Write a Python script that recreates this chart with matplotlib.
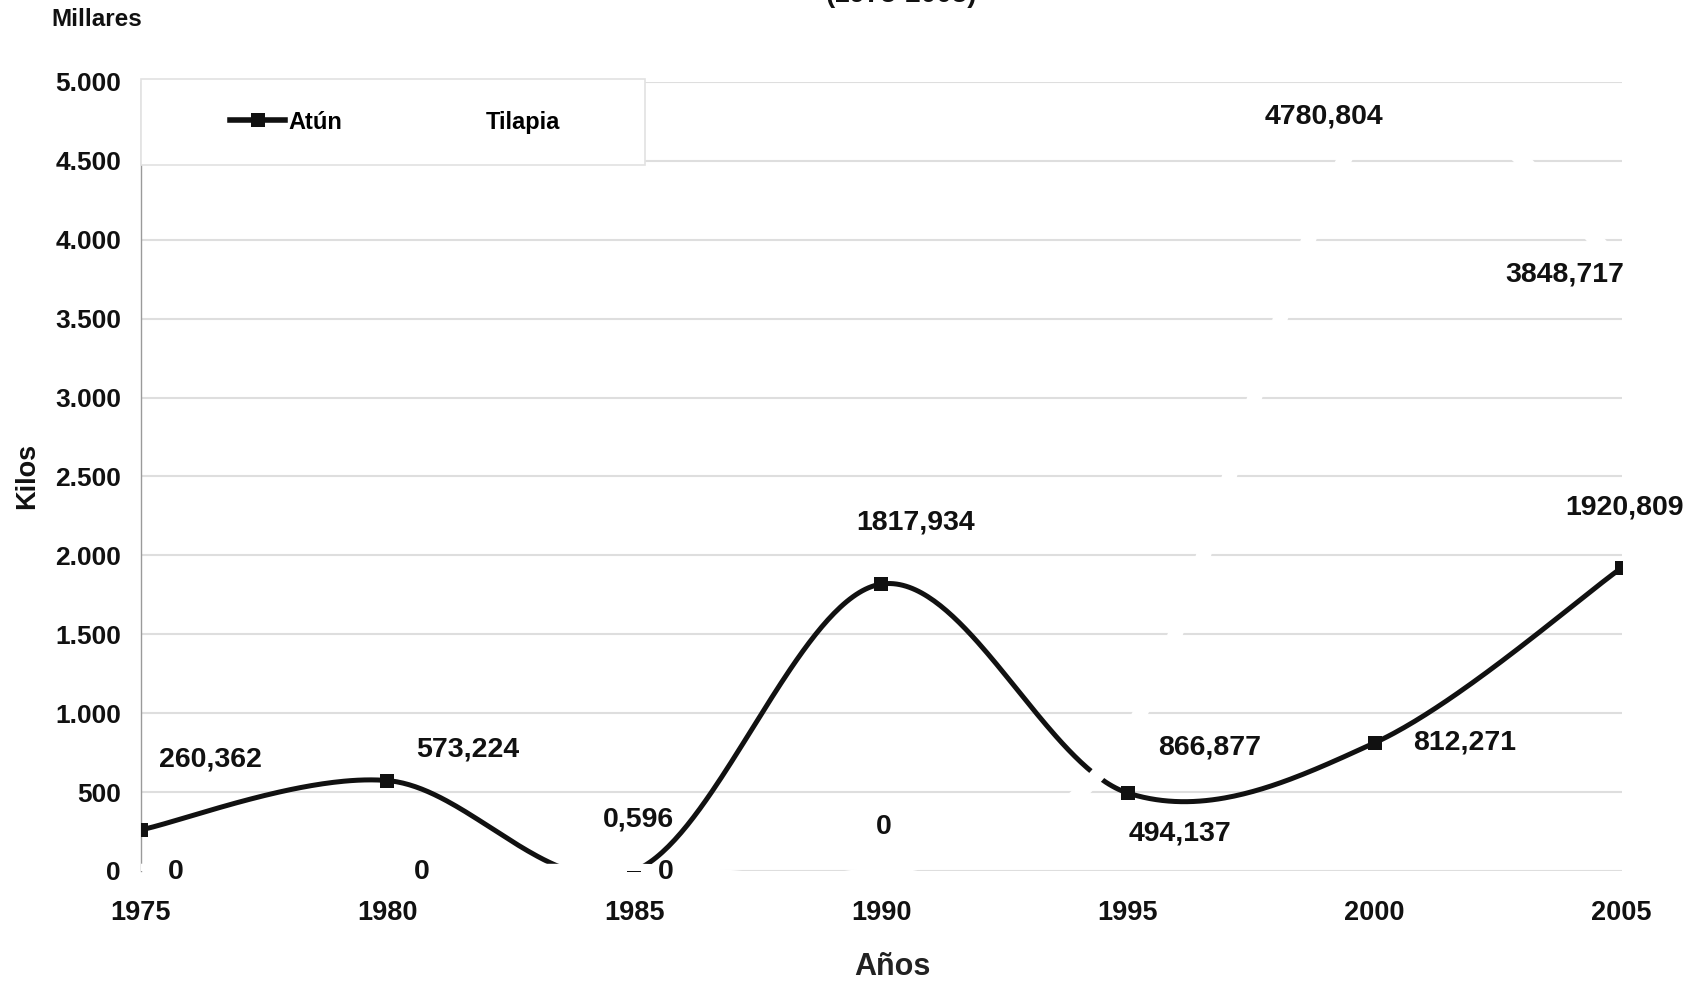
import numpy as np
import matplotlib
matplotlib.use("Agg")
import matplotlib.pyplot as plt
from matplotlib.lines import Line2D
from matplotlib.patches import Rectangle

# ---------------- data ----------------
years = [1975, 1980, 1985, 1990, 1995, 2000, 2005]
atun = [260.362, 573.224, 0.596, 1817.934, 494.137, 812.271, 1920.809]
tilapia = [0, 0, 0, 0, 866.877, 4780.804, 3848.717]
atun_labels = ["260,362", "573,224", "0,596", "1817,934", "494,137", "812,271", "1920,809"]
tilapia_labels = ["0", "0", "0", "0", "866,877", "4780,804", "3848,717"]
yticks = [0, 500, 1000, 1500, 2000, 2500, 3000, 3500, 4000, 4500, 5000]
ytick_labels = ["0", "500", "1.000", "1.500", "2.000", "2.500", "3.000", "3.500", "4.000", "4.500", "5.000"]

# label offsets (pixels) for data labels
atun_off = [(70, 70), (80, 31), (4, 51), (35, 62), (52, -40), (90, 0), (3, 60)]
tilapia_off = [(35, -1), (34, -1), (32, -1), (3, 44), (82, -13), (-51, 0), (-57, -11)]

plt.rcParams['font.family'] = ['Liberation Sans', 'DejaVu Sans']


def smooth(xs, ys, n=80):
    pts = np.column_stack([np.asarray(xs, float), np.asarray(ys, float)])
    out = []
    m = len(pts)
    t = np.linspace(0, 1, n)[:, None]
    for i in range(m - 1):
        p0 = pts[i]
        p3 = pts[i + 1]
        prev = pts[i - 1] if i > 0 else pts[i]
        nxt = pts[i + 2] if i + 2 < m else pts[i + 1]
        c1 = p0 + (p3 - prev) / 6.0
        c2 = p3 - (nxt - p0) / 6.0
        seg = ((1 - t) ** 3) * p0 + 3 * ((1 - t) ** 2) * t * c1 + 3 * (1 - t) * t ** 2 * c2 + t ** 3 * p3
        out.append(seg if i == 0 else seg[1:])
    arr = np.vstack(out)
    return arr[:, 0], arr[:, 1]


W, H = 1695, 985
fig = plt.figure(figsize=(W / 100, H / 100), dpi=100)
left, right = 140.5 / W, 1621.5 / W
bottom, top = 1 - 871 / H, 1 - 82 / H
ax = fig.add_axes([left, bottom, right - left, top - bottom])

ax.set_xlim(1975, 2005)
ax.set_ylim(0, 5000)
ax.set_yticks(yticks)
ax.set_yticklabels(ytick_labels)
ax.set_xticks(years)
ax.set_xticklabels([str(y) for y in years])
ax.tick_params(axis='both', length=0)
ax.tick_params(axis='y', pad=14, labelsize=19)
ax.tick_params(axis='x', pad=21, labelsize=19.5)
for lab in ax.get_xticklabels() + ax.get_yticklabels():
    lab.set_fontweight('bold')
    lab.set_color('#111111')

ax.grid(axis='y', color='#dedede', linewidth=1.5, zorder=0)
ax.set_axisbelow(True)
for s in ['top', 'right', 'bottom']:
    ax.spines[s].set_visible(False)
ax.spines['left'].set_color('#9a9a9a')
ax.spines['left'].set_linewidth(1.0)
ax.spines['left'].set_zorder(1)

# Atún line
sx, sy = smooth(years, atun)
ax.plot(sx, sy, color='#111111', linewidth=3.6, zorder=3, solid_capstyle='butt')
ax.plot(years, atun, linestyle='none', marker='s', markersize=10.3, markeredgewidth=0,
        color='#111111', zorder=4)

# Tilapia line (white)
tx, ty = smooth(years, tilapia)
ax.plot(tx, ty, color='white', linewidth=10.5, zorder=5)

# data labels
lbl_kw = dict(textcoords='offset pixels', ha='center', va='center', fontsize=20.5,
              fontweight='bold', color='#111111', zorder=10, annotation_clip=False)
for x, y, s, off in zip(years, atun, atun_labels, atun_off):
    ax.annotate(s, (x, y), xytext=off, **lbl_kw)
for x, y, s, off in zip(years, tilapia, tilapia_labels, tilapia_off):
    ax.annotate(s, (x, y), xytext=off, **lbl_kw)

# legend frame
ax.add_patch(Rectangle((0.0, 0.8948), 0.3407, 0.109, transform=ax.transAxes,
                       facecolor='white', edgecolor='#e2e2e2', linewidth=1.2,
                       clip_on=False, zorder=15))
handles = [Line2D([0], [0], color='#111111', linewidth=4, marker='s', markersize=10,
                  markeredgewidth=0),
           Line2D([0], [0], color='white', linewidth=4)]
leg = ax.legend(handles, ['Atún', 'Tilapia'], ncol=2, loc='center',
                bbox_to_anchor=(0.1718, 0.949), frameon=False,
                prop={'size': 17, 'weight': 'bold'}, handlelength=2.35,
                handletextpad=0.12, columnspacing=3.6, borderaxespad=0, borderpad=0)
leg.set_zorder(20)

# axis titles and annotations
fig.text(27 / W, 1 - 476 / H, 'Kilos', rotation=90, ha='center', va='center',
         fontsize=19.5, fontweight='bold', color='#111111')
fig.text(892 / W, 1 - 967 / H, 'Años', ha='center', va='center',
         fontsize=22, fontweight='bold', color='#222222')
fig.text(97 / W, 1 - 19.5 / H, 'Millares', ha='center', va='center',
         fontsize=17.5, fontweight='bold', color='#111111')
fig.text(901 / W, 1 - 1.5 / H, '(1975-2005)', ha='center', va='baseline',
         fontsize=20, fontweight='bold', color='#111111')

fig.savefig('out.png', dpi=100, facecolor='white')
